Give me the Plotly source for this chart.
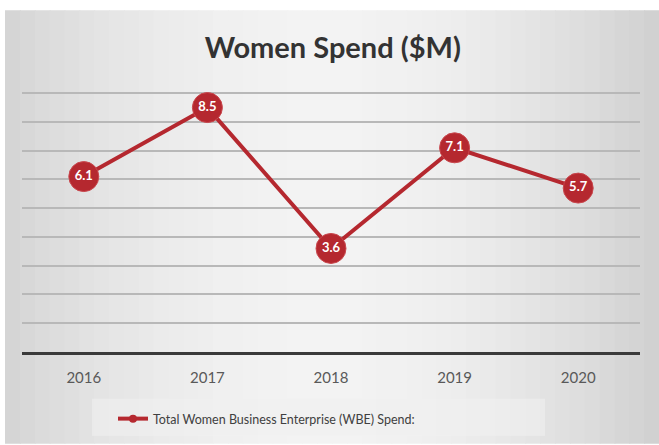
import plotly.graph_objects as go

years = ["2016", "2017", "2018", "2019", "2020"]
spend = [6.1, 8.5, 3.6, 7.1, 5.7]
labels = ["6.1", "8.5", "3.6", "7.1", "5.7"]
series_name = "Total Women Business Enterprise (WBE) Spend:"
title_text = "Women Spend ($M)"

W, H = 659, 445
ML, MR, MT, MB = 22, 19, 65, 92
PW, PH = W - ML - MR, H - MT - MB
RED = "#b5282f"
FONT = "Lato, 'Open Sans', sans-serif"


def px_x(px):
    return (px - ML) / PW


def px_y(py):
    return (H - MB - py) / PH


fig = go.Figure()

# background gradient strips
n = 44
x_start, x_end = 5, W
for i in range(n):
    a = x_start + (x_end - x_start) * i / n
    b = x_start + (x_end - x_start) * (i + 1) / n + 1
    mid = (a + b) / 2
    t = (mid - 330) / 330
    v = int(round(243 - 32 * t * t - (4 * t if t > 0 else 0)))
    fig.add_shape(type="rect", xref="paper", yref="paper",
                  x0=px_x(a), x1=px_x(b), y0=px_y(H), y1=px_y(10),
                  fillcolor=f"rgb({v},{v},{v})", line_width=0, layer="below")

# legend box
fig.add_shape(type="rect", xref="paper", yref="paper",
              x0=px_x(92), x1=px_x(545), y0=px_y(437), y1=px_y(400),
              fillcolor="rgba(240,240,240,0.6)", line_width=0, layer="below")

fig.add_trace(go.Scatter(
    x=years, y=spend, mode="lines+markers+text", text=labels,
    textposition="middle center",
    textfont=dict(family=FONT, size=13, color="white", weight="bold"),
    line=dict(color=RED, width=4),
    marker=dict(size=30, color=RED, line=dict(color="#c9474d", width=1)),
    showlegend=False, hoverinfo="x+y"))

fig.add_trace(go.Scatter(
    x=[None], y=[None], mode="lines+markers", name=series_name,
    line=dict(color=RED, width=4), marker=dict(size=8, color=RED),
    showlegend=True))

fig.update_layout(
    width=W, height=H,
    margin=dict(l=ML, r=MR, t=MT, b=MB),
    paper_bgcolor="white", plot_bgcolor="rgba(0,0,0,0)",
    title=dict(text=title_text, x=0.505, xanchor="center", y=1 - 48 / H,
               yanchor="middle", yref="container",
               font=dict(family=FONT, size=29, color="#333333", weight="bold")),
    xaxis=dict(type="category", range=[-0.5, 4.5], showgrid=False,
               showline=True, linecolor="#3a3a3a", linewidth=3,
               ticks="", ticklabelstandoff=10,
               tickfont=dict(family=FONT, size=15, color="#595959")),
    yaxis=dict(range=[0, 9.98], dtick=1, showgrid=True, gridcolor="#b8b8b8",
               gridwidth=2, zeroline=False, showticklabels=False, ticks=""),
    legend=dict(orientation="h", x=px_x(113), xanchor="left",
                y=px_y(419), yanchor="middle", bgcolor="rgba(0,0,0,0)",
                font=dict(family=FONT, size=12.5, color="#404040")),
    showlegend=True,
)

fig.write_html("out.html", config={"displayModeBar": False},
               post_script="document.body.style.margin='0';"
                           "document.body.style.overflow='hidden';")
